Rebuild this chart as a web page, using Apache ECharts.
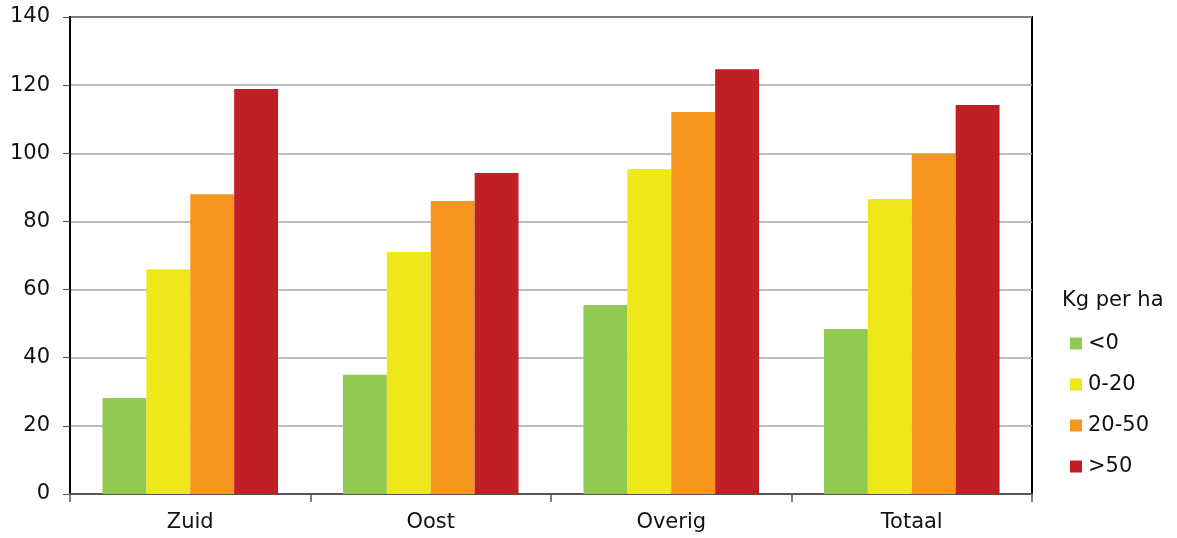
<!DOCTYPE html>
<html><head><meta charset="utf-8">
<script src="https://cdn.jsdelivr.net/npm/echarts@6/dist/echarts.min.js"></script>
<style>html,body{margin:0;padding:0;background:#fff}#c{width:1177px;height:538px}</style>
</head><body><div id="c"></div>
<script>
const categories = ['Zuid', 'Oost', 'Overig', 'Totaal'];
const seriesNames = ['<0', '0-20', '20-50', '>50'];
const valsLt0 = [28.2, 35.0, 55.5, 48.4];
const vals0to20 = [66.0, 71.0, 95.4, 86.6];
const vals20to50 = [88.0, 86.0, 112.1, 99.8];
const valsGt50 = [118.9, 94.2, 124.7, 114.2];
const colors = ['#92c952', '#eee81b', '#f7961e', '#c01f26'];
const yTicks = [0, 20, 40, 60, 80, 100, 120, 140];

const allVals = [valsLt0, vals0to20, vals20to50, valsGt50];
const font = 'DejaVu Sans, Verdana, sans-serif';
const chart = echarts.init(document.getElementById('c'));
chart.setOption({
  animation: false,
  grid: { left: 70, right: 145, top: 17, bottom: 44, show: true, borderColor: '#000', borderWidth: 2, backgroundColor: 'transparent' },
  legend: {
    orient: 'vertical', left: 1065, top: 328,
    itemWidth: 12, itemHeight: 12, itemGap: 20,
    icon: 'rect',
    textStyle: { fontFamily: font, fontSize: 21, color: '#111', padding: [0, 0, 0, 1] },
    data: seriesNames
  },
  graphic: [{ type: 'text', left: 1062, top: 290, style: { text: 'Kg per ha', font: '21px ' + font, fill: '#111' } }],
  xAxis: {
    type: 'category', data: categories,
    axisLine: { lineStyle: { color: '#555', width: 2 } },
    axisTick: { show: true, length: 8, lineStyle: { color: '#555', width: 1.5 } },
    axisLabel: { fontFamily: font, fontSize: 21, color: '#111', margin: 18 },
    splitLine: { show: false }
  },
  yAxis: {
    type: 'value', min: yTicks[0], max: yTicks[yTicks.length - 1], interval: 20,
    axisLine: { show: true, lineStyle: { color: '#000', width: 2 } },
    axisTick: { show: true, length: 7, inside: false, lineStyle: { color: '#555' } },
    axisLabel: { fontFamily: font, fontSize: 21, color: '#111', margin: 20 },
    splitLine: { lineStyle: { color: '#a6a6a6', width: 1.5 } }
  },
  series: seriesNames.map((n, i) => ({
    name: n, type: 'bar', data: allVals[i],
    barGap: '0%', barCategoryGap: '27%',
    itemStyle: { color: colors[i] }
  }))
});
</script></body></html>
